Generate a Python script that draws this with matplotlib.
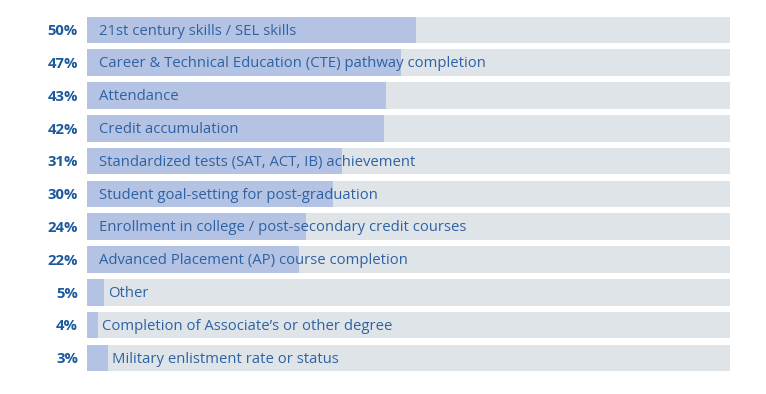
import matplotlib.pyplot as plt

# categories, top to bottom
categories = [
    "21st century skills / SEL skills",
    "Career & Technical Education (CTE) pathway completion",
    "Attendance",
    "Credit accumulation",
    "Standardized tests (SAT, ACT, IB) achievement",
    "Student goal-setting for post-graduation",
    "Enrollment in college / post-secondary credit courses",
    "Advanced Placement (AP) course completion",
    "Other",
    "Completion of Associate’s or other degree",
    "Military enlistment rate or status",
]
pct_labels = ["50%", "47%", "43%", "42%", "31%", "30%", "24%", "22%", "5%", "4%", "3%"]
# bar lengths as drawn in the picture (share of the full track, 0-100)
bar_lengths = [51.1, 48.8, 46.5, 46.2, 39.6, 38.3, 34.1, 32.9, 2.6, 1.7, 3.2]

track_color = "#dfe4e8"
fill_color = "#b4c3e3"
text_color = "#2e62a3"
pct_color = "#1c5a9c"

plt.rcParams['font.family'] = ['Open Sans', 'DejaVu Sans']

fig = plt.figure(figsize=(7.66, 3.94), dpi=100)
ax = fig.add_axes([87 / 766, 0.050, (730 - 87) / 766, 0.916])

y = list(range(len(categories)))
ax.barh(y, [100] * len(y), height=0.81, color=track_color, left=0)
ax.barh(y, bar_lengths, height=0.81, color=fill_color, left=0)

for i, (cat, pct, val) in enumerate(zip(categories, pct_labels, bar_lengths)):
    # short bars push the label past the fill
    tx = 1.87 if val > 10 else max(1.87, val + 0.7)
    ax.text(tx, i + 0.04, cat, va='center', ha='left',
            fontsize=10.7, color=text_color)
    ax.text(-1.4, i + 0.04, pct, va='center', ha='right', fontsize=10.7,
            fontweight='bold', color=pct_color)

ax.set_xlim(0, 100)
ax.set_ylim(len(y) - 0.5, -0.5)
ax.axis('off')

fig.savefig('out.png', dpi=100, facecolor='white')
